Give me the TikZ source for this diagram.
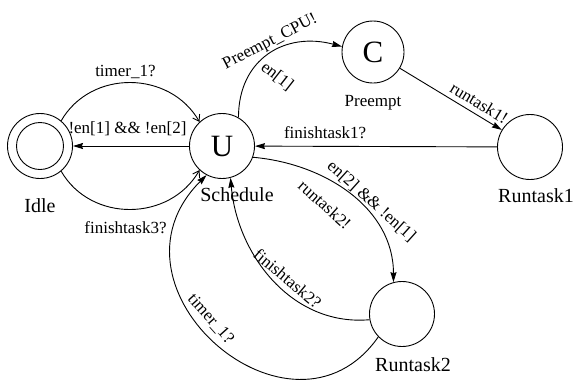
\documentclass[tikz,border=0pt]{standalone}
\usepackage{fontspec}
\setmainfont{Liberation Serif}
\usetikzlibrary{arrows.meta}

\begin{document}
\begin{tikzpicture}[x=1pt, y=-1pt, line width=0.9pt, >={Stealth[length=10pt,width=6pt,inset=1pt]},
  main/.style = {draw, circle, minimum size=65pt, inner sep=0pt, font=\fontsize{31}{31}\selectfont},
  lbl/.style = {font=\fontsize{20}{20}\selectfont},
  txt/.style = {font=\fontsize{17}{17}\selectfont, inner sep=2pt},
  open/.style = {-{Straight Barb[length=6pt,width=8pt]}}]
\useasboundingbox (0,0) rectangle (574,384);
\node[main, label={[lbl, yshift=-16pt]below:Idle}] (1) at (40,146) {};
\draw (1) circle[radius=23.5];
\node[main, label={[lbl, xshift=15pt, yshift=-5pt]below:Schedule}] (2) at (222,146) {U};
\node[main, minimum size=62pt, label={[txt, yshift=-9pt]below:Preempt}] (3) at (373,52) {C};
\node[main, label={[lbl, xshift=6pt, yshift=-5pt]below:Runtask1}] (4) at (530,147) {};
\node[main, label={[lbl, xshift=11pt, yshift=-7pt]below:Runtask2}] (5) at (402,314) {};

\draw[open] (1.50) to[out=60, in=120, looseness=1.1] node[txt, above=2pt, pos=.47] {timer\_1?} (2.133);
\draw[->] (2) -- node[txt, above=8pt, pos=.53] {!en[1] \&\& !en[2]} (1);
\draw[open] (1.-50) to[out=-60, in=-120, looseness=1.1] node[txt, below=10pt, pos=.47] {finishtask3?} (2.-133);
\draw[->] (2.60) to[out=90, in=165, looseness=1.2] node[txt, sloped, above, pos=.55] {Preempt\_CPU!}
  node[txt, xshift=7pt, yshift=4pt, rotate=-38, anchor=west, pos=.35] {en[1]} (3.170);
\draw[->] (3) -- node[txt, sloped, above=3pt, pos=.72] {runtask1!} (4);
\draw[->] (4) -- node[txt, above=5pt, pos=.71] {finishtask1?} (2);
\draw[->] (2.-20) to[out=-5, in=90] node[txt, rotate=-42, anchor=south, pos=.6] {en[2] \&\& !en[1]}
  node[txt, xshift=-12pt, yshift=-10pt, rotate=-42, anchor=north, pos=.45] {runtask2!} (5.105);
\draw[->] (5.190) to[out=185, in=-85] node[txt, xshift=1pt, yshift=3pt, rotate=-40, anchor=south, pos=.45] {finishtask2?} (2.-75);
\draw[->] (5.-136) to[out=-125, in=-135, out distance=150pt, in distance=160pt] node[txt, xshift=4pt, rotate=-48, anchor=south, pos=.57] {timer\_1?} (2.-118);
\end{tikzpicture}
\end{document}
